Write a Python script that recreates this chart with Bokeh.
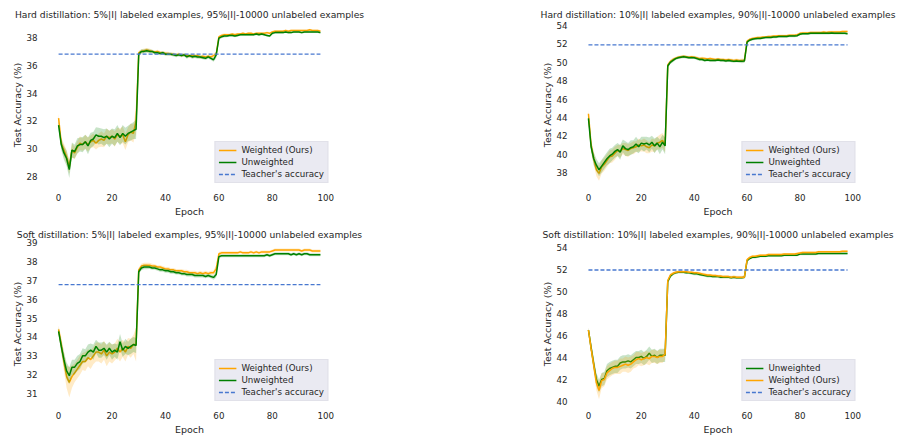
from bokeh.plotting import figure
from bokeh.layouts import column, row
from bokeh.models import Range1d, FixedTicker, Legend, LegendItem
from bokeh.embed import file_html
from bokeh.resources import INLINE

epochs = list(range(99))

# ---------- Hard distillation, 5% ----------
hard5_weighted = [
    32.2, 30.4, 29.9, 29.4, 28.7, 29.9, 29.7, 30.1, 30.4, 30.3,
    30.5, 30.3, 30.5, 30.6, 30.4, 30.6, 30.7, 30.6, 30.9, 30.8,
    30.9, 30.7, 31.0, 30.9, 31.0, 30.5, 31.0, 31.2, 31.1, 32.0,
    36.9, 37.0, 37.05, 37.1, 37.05, 37.0, 36.95, 37.0, 36.9, 36.9,
    36.85, 36.85, 36.8, 36.8, 36.75, 36.8, 36.7, 36.75, 36.7, 36.65,
    36.7, 36.65, 36.7, 36.6, 36.65, 36.6, 36.65, 36.6, 36.7, 36.8,
    38.05, 38.15, 38.2, 38.2, 38.2, 38.25, 38.2, 38.25, 38.25, 38.3,
    38.25, 38.3, 38.3, 38.25, 38.3, 38.3, 38.3, 38.3, 38.35, 38.3,
    38.4, 38.45, 38.45, 38.45, 38.45, 38.5, 38.45, 38.5, 38.5, 38.5,
    38.5, 38.5, 38.5, 38.5, 38.55, 38.5, 38.5, 38.5, 38.45]
hard5_weighted_sd = [
    0.3, 0.4, 0.45, 0.5, 0.5, 0.5, 0.45, 0.45, 0.5, 0.45,
    0.5, 0.5, 0.45, 0.5, 0.45, 0.5, 0.55, 0.5, 0.55, 0.5,
    0.5, 0.55, 0.5, 0.55, 0.6, 0.6, 0.55, 0.6, 0.65, 0.9,
    0.15, 0.15, 0.15, 0.15, 0.15, 0.12, 0.12, 0.12, 0.12, 0.12,
    0.12, 0.12, 0.12, 0.12, 0.12, 0.12, 0.12, 0.12, 0.12, 0.12,
    0.12, 0.12, 0.12, 0.12, 0.12, 0.12, 0.12, 0.12, 0.15, 0.2,
    0.1, 0.1, 0.1, 0.08, 0.08, 0.08, 0.08, 0.08, 0.08, 0.08,
    0.08, 0.08, 0.08, 0.08, 0.08, 0.08, 0.08, 0.08, 0.08, 0.08,
    0.08, 0.08, 0.08, 0.08, 0.08, 0.08, 0.08, 0.08, 0.08, 0.08,
    0.08, 0.08, 0.08, 0.08, 0.08, 0.08, 0.08, 0.08, 0.08]
hard5_unweighted = [
    31.7, 30.3, 29.7, 29.3, 28.5, 29.9, 29.8, 30.2, 30.3, 30.3,
    30.5, 30.2, 30.6, 30.7, 31.0, 30.9, 30.9, 30.8, 30.9, 30.7,
    30.9, 30.8, 31.1, 30.8, 31.1, 30.9, 31.1, 31.2, 31.3, 31.4,
    36.8, 37.0, 37.0, 37.05, 37.0, 37.0, 36.9, 36.9, 36.85, 36.9,
    36.8, 36.8, 36.8, 36.75, 36.7, 36.75, 36.7, 36.75, 36.6, 36.7,
    36.6, 36.65, 36.6, 36.6, 36.55, 36.5, 36.6, 36.5, 36.4, 36.75,
    37.95, 38.05, 38.1, 38.1, 38.15, 38.15, 38.1, 38.15, 38.2, 38.2,
    38.2, 38.2, 38.2, 38.2, 38.25, 38.2, 38.25, 38.2, 38.15, 38.1,
    38.3, 38.35, 38.35, 38.35, 38.35, 38.4, 38.35, 38.35, 38.4, 38.4,
    38.4, 38.35, 38.4, 38.4, 38.4, 38.4, 38.4, 38.4, 38.35]
hard5_unweighted_sd = [
    0.3, 0.4, 0.5, 0.55, 0.6, 0.55, 0.5, 0.55, 0.5, 0.55,
    0.5, 0.6, 0.55, 0.5, 0.55, 0.6, 0.55, 0.6, 0.55, 0.6,
    0.55, 0.6, 0.6, 0.55, 0.6, 0.6, 0.55, 0.6, 0.6, 0.7,
    0.15, 0.15, 0.15, 0.15, 0.15, 0.12, 0.12, 0.12, 0.12, 0.12,
    0.12, 0.12, 0.12, 0.12, 0.12, 0.12, 0.12, 0.12, 0.12, 0.12,
    0.12, 0.12, 0.12, 0.12, 0.12, 0.12, 0.12, 0.12, 0.15, 0.25,
    0.1, 0.1, 0.1, 0.08, 0.08, 0.08, 0.08, 0.08, 0.08, 0.08,
    0.08, 0.08, 0.08, 0.08, 0.08, 0.08, 0.08, 0.08, 0.08, 0.08,
    0.08, 0.08, 0.08, 0.08, 0.08, 0.08, 0.08, 0.08, 0.08, 0.08,
    0.08, 0.08, 0.08, 0.08, 0.08, 0.08, 0.08, 0.08, 0.08]
hard5_teacher = 36.8

# ---------- Hard distillation, 10% ----------
hard10_weighted = [
    44.4, 41.0, 39.5, 38.3, 37.9, 38.6, 38.9, 39.3, 39.7, 39.8,
    40.1, 40.4, 40.3, 40.6, 40.5, 40.4, 40.6, 40.7, 40.8, 41.0,
    40.9, 41.0, 40.8, 40.7, 41.0, 40.9, 41.2, 41.3, 41.5, 41.0,
    49.7, 50.1, 50.3, 50.45, 50.55, 50.6, 50.65, 50.6, 50.55, 50.6,
    50.55, 50.5, 50.4, 50.45, 50.4, 50.35, 50.4, 50.35, 50.3, 50.35,
    50.3, 50.3, 50.25, 50.3, 50.25, 50.2, 50.25, 50.2, 50.2, 50.2,
    52.3, 52.5, 52.6, 52.65, 52.7, 52.7, 52.75, 52.75, 52.8, 52.8,
    52.85, 52.85, 52.9, 52.9, 52.9, 52.9, 52.95, 52.95, 52.95, 53.0,
    53.15, 53.2, 53.2, 53.2, 53.25, 53.25, 53.25, 53.25, 53.25, 53.3,
    53.25, 53.3, 53.3, 53.3, 53.3, 53.3, 53.35, 53.35, 53.35]
hard10_weighted_sd = [
    0.4, 0.6, 0.7, 0.7, 0.8, 0.7, 0.7, 0.7, 0.7, 0.7,
    0.7, 0.6, 0.7, 0.6, 0.7, 0.7, 0.6, 0.7, 0.6, 0.7,
    0.6, 0.7, 0.7, 0.6, 0.7, 0.7, 0.7, 0.8, 0.8, 0.8,
    0.2, 0.2, 0.2, 0.15, 0.15, 0.15, 0.15, 0.15, 0.15, 0.15,
    0.15, 0.15, 0.15, 0.15, 0.15, 0.15, 0.15, 0.15, 0.15, 0.15,
    0.15, 0.15, 0.15, 0.15, 0.15, 0.15, 0.15, 0.15, 0.2, 0.2,
    0.15, 0.12, 0.12, 0.12, 0.12, 0.12, 0.12, 0.12, 0.12, 0.12,
    0.12, 0.12, 0.12, 0.12, 0.12, 0.12, 0.12, 0.12, 0.12, 0.12,
    0.12, 0.12, 0.12, 0.12, 0.12, 0.12, 0.12, 0.12, 0.12, 0.12,
    0.12, 0.12, 0.12, 0.12, 0.12, 0.12, 0.12, 0.12, 0.12]
hard10_unweighted = [
    43.9, 40.8, 39.5, 38.8, 38.3, 38.7, 39.1, 39.5, 39.8, 40.0,
    40.3, 40.5, 40.2, 40.9, 40.6, 40.5, 40.7, 40.8, 41.1, 40.8,
    41.2, 41.1, 41.2, 41.0, 41.3, 40.9, 41.2, 40.8, 41.3, 40.9,
    49.6, 50.0, 50.2, 50.4, 50.5, 50.55, 50.6, 50.55, 50.5, 50.5,
    50.5, 50.4, 50.3, 50.3, 50.2, 50.25, 50.2, 50.2, 50.2, 50.25,
    50.2, 50.2, 50.15, 50.2, 50.15, 50.1, 50.15, 50.1, 50.1, 50.15,
    52.2, 52.4, 52.5, 52.55, 52.6, 52.6, 52.65, 52.7, 52.7, 52.7,
    52.75, 52.75, 52.8, 52.8, 52.8, 52.8, 52.85, 52.85, 52.85, 52.9,
    53.05, 53.1, 53.1, 53.1, 53.15, 53.15, 53.15, 53.15, 53.15, 53.15,
    53.15, 53.15, 53.2, 53.15, 53.15, 53.15, 53.15, 53.15, 53.1]
hard10_unweighted_sd = [
    0.4, 0.6, 0.7, 0.7, 0.7, 0.7, 0.7, 0.7, 0.8, 0.7,
    0.7, 0.7, 0.8, 0.7, 0.8, 0.7, 0.8, 0.7, 0.8, 0.7,
    0.7, 0.8, 0.7, 0.8, 0.7, 0.8, 0.7, 0.8, 0.8, 0.9,
    0.2, 0.2, 0.2, 0.15, 0.15, 0.15, 0.15, 0.15, 0.15, 0.15,
    0.15, 0.15, 0.15, 0.15, 0.15, 0.15, 0.15, 0.15, 0.15, 0.15,
    0.15, 0.15, 0.15, 0.15, 0.15, 0.15, 0.15, 0.15, 0.2, 0.2,
    0.15, 0.12, 0.12, 0.12, 0.12, 0.12, 0.12, 0.12, 0.12, 0.12,
    0.12, 0.12, 0.12, 0.12, 0.12, 0.12, 0.12, 0.12, 0.12, 0.12,
    0.12, 0.12, 0.12, 0.12, 0.12, 0.12, 0.12, 0.12, 0.12, 0.12,
    0.12, 0.12, 0.12, 0.12, 0.12, 0.12, 0.12, 0.12, 0.12]
hard10_teacher = 51.9

# ---------- Soft distillation, 5% ----------
soft5_weighted = [
    34.4, 33.6, 32.7, 31.9, 31.6, 31.9, 32.1, 32.3, 32.5, 32.7,
    32.7, 32.9, 32.8, 33.0, 33.2, 33.2, 33.1, 33.3, 33.0, 33.2,
    33.1, 33.2, 33.4, 33.2, 33.4, 33.2, 33.5, 33.4, 33.6, 33.6,
    37.55, 37.75, 37.8, 37.8, 37.8, 37.75, 37.75, 37.7, 37.7, 37.65,
    37.6, 37.6, 37.55, 37.55, 37.5, 37.5, 37.5, 37.45, 37.45, 37.4,
    37.4, 37.4, 37.35, 37.4, 37.35, 37.4, 37.35, 37.4, 37.4, 37.6,
    38.4, 38.45, 38.45, 38.45, 38.45, 38.45, 38.45, 38.45, 38.5, 38.45,
    38.45, 38.45, 38.5, 38.45, 38.5, 38.45, 38.5, 38.5, 38.5, 38.5,
    38.55, 38.6, 38.6, 38.6, 38.6, 38.6, 38.6, 38.6, 38.6, 38.6,
    38.6, 38.55, 38.6, 38.6, 38.6, 38.55, 38.55, 38.55, 38.55]
soft5_weighted_sd = [
    0.2, 0.4, 0.5, 0.6, 0.8, 0.6, 0.5, 0.5, 0.5, 0.45,
    0.5, 0.45, 0.5, 0.45, 0.5, 0.5, 0.5, 0.5, 0.55, 0.5,
    0.5, 0.45, 0.5, 0.5, 0.45, 0.5, 0.45, 0.5, 0.5, 0.9,
    0.12, 0.12, 0.12, 0.12, 0.12, 0.12, 0.1, 0.1, 0.1, 0.1,
    0.1, 0.1, 0.1, 0.1, 0.1, 0.1, 0.1, 0.1, 0.1, 0.1,
    0.1, 0.1, 0.1, 0.1, 0.1, 0.1, 0.1, 0.1, 0.12, 0.2,
    0.1, 0.08, 0.08, 0.08, 0.08, 0.08, 0.08, 0.08, 0.08, 0.08,
    0.08, 0.08, 0.08, 0.08, 0.08, 0.08, 0.08, 0.08, 0.08, 0.08,
    0.08, 0.08, 0.08, 0.08, 0.08, 0.08, 0.08, 0.08, 0.08, 0.08,
    0.08, 0.08, 0.08, 0.08, 0.08, 0.08, 0.08, 0.08, 0.08]
soft5_unweighted = [
    34.3, 33.5, 32.8, 32.2, 31.95, 32.4, 32.4, 32.6, 32.7, 33.0,
    33.0, 33.2, 33.3, 33.2, 33.5, 33.3, 33.3, 33.4, 33.2, 33.4,
    33.2, 33.3, 33.2, 33.75, 33.3, 33.5, 33.4, 33.5, 33.6, 33.55,
    37.45, 37.65, 37.7, 37.7, 37.7, 37.65, 37.65, 37.6, 37.55, 37.55,
    37.5, 37.5, 37.45, 37.45, 37.4, 37.4, 37.35, 37.35, 37.3, 37.3,
    37.3, 37.25, 37.25, 37.25, 37.25, 37.2, 37.25, 37.2, 37.15, 37.3,
    38.25, 38.3, 38.3, 38.3, 38.3, 38.3, 38.3, 38.3, 38.3, 38.3,
    38.3, 38.3, 38.3, 38.3, 38.3, 38.3, 38.3, 38.3, 38.35, 38.3,
    38.35, 38.4, 38.4, 38.4, 38.4, 38.4, 38.4, 38.35, 38.4, 38.35,
    38.4, 38.35, 38.4, 38.4, 38.35, 38.35, 38.35, 38.35, 38.35]
soft5_unweighted_sd = [
    0.2, 0.35, 0.4, 0.45, 0.45, 0.4, 0.4, 0.4, 0.4, 0.4,
    0.35, 0.4, 0.35, 0.4, 0.35, 0.4, 0.4, 0.35, 0.4, 0.35,
    0.4, 0.35, 0.4, 0.4, 0.35, 0.4, 0.35, 0.4, 0.4, 0.4,
    0.12, 0.12, 0.12, 0.12, 0.1, 0.1, 0.1, 0.1, 0.1, 0.1,
    0.1, 0.1, 0.1, 0.1, 0.1, 0.1, 0.1, 0.1, 0.1, 0.1,
    0.1, 0.1, 0.1, 0.1, 0.1, 0.1, 0.1, 0.1, 0.12, 0.15,
    0.1, 0.08, 0.08, 0.08, 0.08, 0.08, 0.08, 0.08, 0.08, 0.08,
    0.08, 0.08, 0.08, 0.08, 0.08, 0.08, 0.08, 0.08, 0.08, 0.08,
    0.08, 0.08, 0.08, 0.08, 0.08, 0.08, 0.08, 0.08, 0.08, 0.08,
    0.08, 0.08, 0.08, 0.08, 0.08, 0.08, 0.08, 0.08, 0.08]
soft5_teacher = 36.77

# ---------- Soft distillation, 10% ----------
soft10_weighted = [
    46.5, 44.8, 43.3, 41.7, 41.0, 41.9, 42.0, 42.6, 42.8, 43.0,
    43.1, 43.1, 43.2, 43.3, 43.4, 43.3, 43.4, 43.6, 43.8, 43.9,
    43.8, 43.9, 44.0, 43.9, 44.1, 44.1, 44.0, 44.1, 44.1, 44.3,
    51.0, 51.5, 51.65, 51.75, 51.8, 51.8, 51.8, 51.8, 51.75, 51.75,
    51.7, 51.7, 51.65, 51.6, 51.55, 51.5, 51.5, 51.45, 51.45, 51.4,
    51.4, 51.35, 51.35, 51.35, 51.3, 51.35, 51.3, 51.3, 51.3, 51.3,
    52.9, 53.1, 53.2, 53.2, 53.25, 53.3, 53.3, 53.3, 53.35, 53.35,
    53.35, 53.35, 53.35, 53.35, 53.4, 53.4, 53.4, 53.4, 53.4, 53.45,
    53.5, 53.55, 53.55, 53.55, 53.55, 53.55, 53.55, 53.6, 53.6, 53.6,
    53.6, 53.6, 53.6, 53.6, 53.6, 53.6, 53.65, 53.65, 53.65]
soft10_weighted_sd = [
    0.2, 0.5, 0.6, 0.7, 0.8, 0.7, 0.6, 0.6, 0.6, 0.6,
    0.6, 0.6, 0.7, 0.6, 0.7, 0.7, 0.7, 0.6, 0.7, 0.6,
    0.6, 0.6, 0.6, 0.6, 0.6, 0.6, 0.6, 0.6, 0.6, 0.5,
    0.15, 0.15, 0.12, 0.12, 0.12, 0.12, 0.12, 0.12, 0.12, 0.12,
    0.12, 0.12, 0.12, 0.12, 0.12, 0.12, 0.12, 0.12, 0.12, 0.12,
    0.12, 0.12, 0.12, 0.12, 0.12, 0.12, 0.12, 0.12, 0.12, 0.15,
    0.12, 0.1, 0.1, 0.1, 0.1, 0.1, 0.1, 0.1, 0.1, 0.1,
    0.1, 0.1, 0.1, 0.1, 0.1, 0.1, 0.1, 0.1, 0.1, 0.1,
    0.1, 0.1, 0.1, 0.1, 0.1, 0.1, 0.1, 0.1, 0.1, 0.1,
    0.1, 0.1, 0.1, 0.1, 0.1, 0.1, 0.1, 0.1, 0.1]
soft10_unweighted = [
    46.5, 44.9, 43.4, 42.0, 41.4, 42.0, 42.1, 42.8, 43.0, 43.1,
    43.2, 43.2, 43.5, 43.6, 43.6, 43.7, 43.6, 43.8, 44.0, 44.0,
    44.1, 43.9, 44.1, 44.4, 44.1, 44.2, 44.0, 44.2, 44.2, 44.2,
    50.9, 51.4, 51.6, 51.7, 51.75, 51.75, 51.75, 51.7, 51.7, 51.65,
    51.6, 51.6, 51.55, 51.5, 51.45, 51.4, 51.4, 51.35, 51.35, 51.35,
    51.3, 51.3, 51.3, 51.3, 51.25, 51.3, 51.25, 51.25, 51.25, 51.3,
    52.8, 53.0, 53.1, 53.1, 53.15, 53.2, 53.2, 53.2, 53.25, 53.25,
    53.25, 53.25, 53.25, 53.25, 53.3, 53.3, 53.3, 53.3, 53.3, 53.3,
    53.4, 53.4, 53.4, 53.4, 53.4, 53.4, 53.4, 53.45, 53.45, 53.45,
    53.45, 53.45, 53.45, 53.45, 53.45, 53.45, 53.45, 53.45, 53.45]
soft10_unweighted_sd = [
    0.2, 0.5, 0.6, 0.6, 0.6, 0.6, 0.6, 0.6, 0.6, 0.6,
    0.6, 0.6, 0.6, 0.6, 0.6, 0.6, 0.6, 0.6, 0.6, 0.6,
    0.6, 0.6, 0.6, 0.6, 0.6, 0.6, 0.6, 0.6, 0.6, 0.6,
    0.15, 0.15, 0.12, 0.12, 0.12, 0.12, 0.12, 0.12, 0.12, 0.12,
    0.12, 0.12, 0.12, 0.12, 0.12, 0.12, 0.12, 0.12, 0.12, 0.12,
    0.12, 0.12, 0.12, 0.12, 0.12, 0.12, 0.12, 0.12, 0.12, 0.15,
    0.12, 0.1, 0.1, 0.1, 0.1, 0.1, 0.1, 0.1, 0.1, 0.1,
    0.1, 0.1, 0.1, 0.1, 0.1, 0.1, 0.1, 0.1, 0.1, 0.1,
    0.1, 0.1, 0.1, 0.1, 0.1, 0.1, 0.1, 0.1, 0.1, 0.1,
    0.1, 0.1, 0.1, 0.1, 0.1, 0.1, 0.1, 0.1, 0.1]
soft10_teacher = 51.95

titles = [
    "Hard distillation: 5%|I| labeled examples, 95%|I|-10000 unlabeled examples",
    "Hard distillation: 10%|I| labeled examples, 90%|I|-10000 unlabeled examples",
    "Soft distillation: 5%|I| labeled examples, 95%|I|-10000 unlabeled examples",
    "Soft distillation: 10%|I| labeled examples, 90%|I|-10000 unlabeled examples",
]
label_weighted = "Weighted (Ours)"
label_unweighted = "Unweighted"
label_teacher = "Teacher's accuracy"
x_label = "Epoch"
y_label = "Test Accuracy (%)"
x_ticks = [0, 20, 40, 60, 80, 100]

C_W = "#ffa500"
C_U = "#008000"
C_T = "#4878d0"
FONT = "DejaVu Sans"
TXT = "#262626"


def make(title, w, wsd, u, usd, teacher, yrange, yticks, unweighted_first,
         width, height, mb_left, mb_right, mb_top, mb_bottom):
    p = figure(width=width, height=height, output_backend="svg",
               toolbar_location=None, title=title,
               x_range=Range1d(-4.9, 102.9), y_range=Range1d(*yrange),
               min_border_left=mb_left, min_border_right=mb_right,
               min_border_top=mb_top, min_border_bottom=mb_bottom)
    p.title.text_font = FONT
    p.title.text_font_size = "9.2px"
    p.title.text_font_style = "normal"
    p.title.text_color = TXT
    p.title.align = "center"
    p.title.standoff = 3
    p.outline_line_color = None
    p.grid.visible = False
    p.background_fill_color = "white"
    for ax in (p.xaxis[0], p.yaxis[0]):
        ax.axis_line_color = None
        ax.major_tick_line_color = None
        ax.minor_tick_line_color = None
        ax.major_tick_out = 0
        ax.major_tick_in = 0
        ax.major_label_text_font = FONT
        ax.major_label_text_font_size = "8.7px"
        ax.major_label_text_color = TXT
        ax.axis_label_text_font = FONT
        ax.axis_label_text_font_size = "9.5px"
        ax.axis_label_text_font_style = "normal"
        ax.axis_label_text_color = TXT
    p.xaxis.ticker = FixedTicker(ticks=x_ticks)
    p.yaxis.ticker = FixedTicker(ticks=yticks)
    p.xaxis.axis_label = x_label
    p.yaxis.axis_label = y_label
    p.xaxis.major_label_standoff = 5
    p.xaxis.axis_label_standoff = 2
    p.yaxis.major_label_standoff = 8
    p.yaxis.axis_label_standoff = 0

    w_lo = [m - s for m, s in zip(w, wsd)]
    w_hi = [m + s for m, s in zip(w, wsd)]
    u_lo = [m - s for m, s in zip(u, usd)]
    u_hi = [m + s for m, s in zip(u, usd)]

    def draw_w():
        p.varea(x=epochs, y1=w_lo, y2=w_hi, fill_color=C_W, fill_alpha=0.22)
        return p.line(epochs, w, line_color=C_W, line_width=1.5)

    def draw_u():
        p.varea(x=epochs, y1=u_lo, y2=u_hi, fill_color=C_U, fill_alpha=0.22)
        return p.line(epochs, u, line_color=C_U, line_width=1.5)

    if unweighted_first:
        r_u = draw_u()
        r_w = draw_w()
    else:
        r_w = draw_w()
        r_u = draw_u()
    r_t = p.line([epochs[0], epochs[-1]], [teacher, teacher], line_color=C_T,
                 line_width=1.3, line_dash="4 2")

    if unweighted_first:
        items = [LegendItem(label=label_unweighted, renderers=[r_u]),
                 LegendItem(label=label_weighted, renderers=[r_w])]
    else:
        items = [LegendItem(label=label_weighted, renderers=[r_w]),
                 LegendItem(label=label_unweighted, renderers=[r_u])]
    items.append(LegendItem(label=label_teacher, renderers=[r_t]))
    leg = Legend(items=items, location="bottom_right")
    leg.background_fill_color = "#eaeaf2"
    leg.background_fill_alpha = 1.0
    leg.border_line_color = "#d8d8e0"
    leg.border_line_width = 1
    leg.label_text_font = FONT
    leg.label_text_font_size = "8.7px"
    leg.label_text_color = TXT
    leg.glyph_width = 18
    leg.glyph_height = 10
    leg.label_height = 10
    leg.label_standoff = 5
    leg.spacing = 2
    leg.padding = 3
    leg.margin = 5
    p.add_layout(leg)
    return p


LW, RW = 530, 369
TH, BH = 220, 217

p1 = make(titles[0], hard5_weighted, hard5_weighted_sd, hard5_unweighted,
          hard5_unweighted_sd, hard5_teacher, (27.14, 39.15),
          [28, 30, 32, 34, 36, 38], False, LW, TH, 45, 197, 21, 32)
p2 = make(titles[1], hard10_weighted, hard10_weighted_sd, hard10_unweighted,
          hard10_unweighted_sd, hard10_teacher, (36.26, 54.44),
          [38, 40, 42, 44, 46, 48, 50, 52, 54], False, RW, TH, 45, 39, 21, 32)
p3 = make(titles[2], soft5_weighted, soft5_weighted_sd, soft5_unweighted,
          soft5_unweighted_sd, soft5_teacher, (30.32, 39.05),
          [31, 32, 33, 34, 35, 36, 37, 38, 39], False, LW, BH, 45, 197, 21, 30)
p4 = make(titles[3], soft10_weighted, soft10_weighted_sd, soft10_unweighted,
          soft10_unweighted_sd, soft10_teacher, (39.55, 54.54),
          [40, 42, 44, 46, 48, 50, 52, 54], True, RW, BH, 45, 39, 21, 30)

layout = column(row(p1, p2), row(p3, p4))
open("out.html", "w").write(file_html(layout, INLINE))
